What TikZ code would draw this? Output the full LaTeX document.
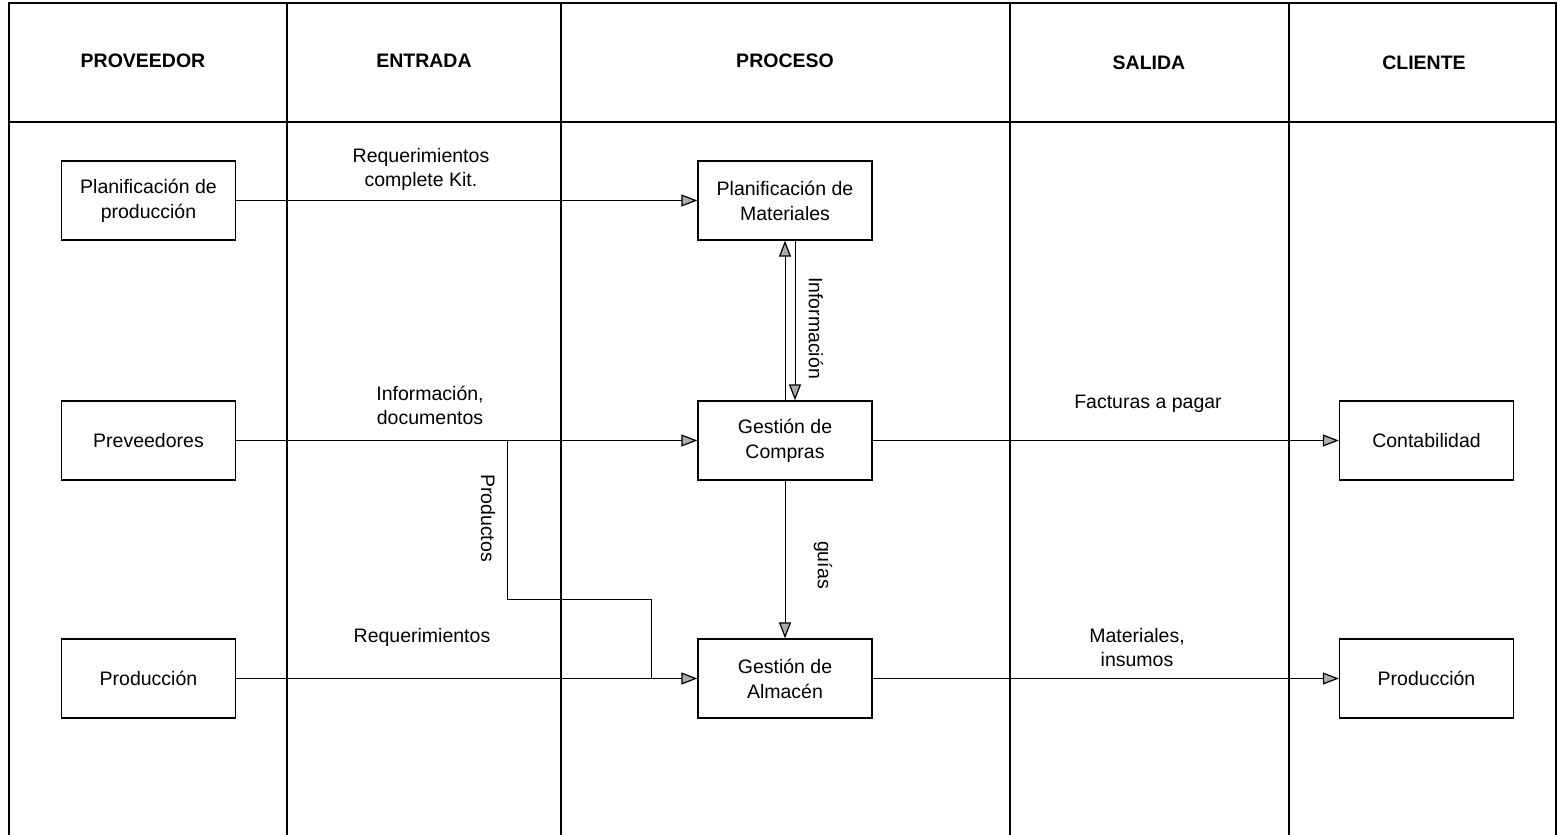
\documentclass[tikz,border=0pt]{standalone}
\usepackage{fontspec}
\setmainfont{Liberation Sans}
\usetikzlibrary{arrows.meta,calc}

\tikzset{
  grid/.style={line width=1.3pt},
  box/.style={draw, line width=1.3pt, fill=white, minimum width=174pt, minimum height=79pt,
    inner sep=0pt, align=center, font=\fontsize{19.5}{25}\selectfont},
  hdr/.style={font=\fontsize{19.5}{25}\selectfont\bfseries},
  lbl/.style={align=center, inner sep=0pt, font=\fontsize{19.5}{24}\selectfont},
  vlbl/.style={lbl, rotate=-90},
  flow/.style={line width=1pt},
  arr/.style={flow, -{Triangle[length=16pt,width=12pt,fill=gray!65,line width=1.2pt]}},
}

\begin{document}
\begin{tikzpicture}[x=1pt,y=-1pt]
\useasboundingbox (0,0) rectangle (1558,835);

% table frame, columns and header row
\draw[grid] (9,835) -- (9,3) -- (1556,3) -- (1556,835);
\draw[grid] (9,122) -- (1556,122);
\foreach \cx in {287,561,1010,1289}
  \draw[grid] (\cx,3) -- (\cx,835);

\node[hdr] (hprov) at (143,61) {PROVEEDOR};
\node[hdr] (hent)  at (424,61) {ENTRADA};
\node[hdr] (hproc) at (785,61) {PROCESO};
\node[hdr] (hsal)  at (1149,63) {SALIDA};
\node[hdr] (hcli)  at (1424,63) {CLIENTE};

% suppliers
\node[box] (pp)   at (148.5,200.5) {Planificación de\\producción};
\node[box] (prv)  at (148.5,440.5) {Preveedores};
\node[box] (prod) at (148.5,678.5) {Producción};

% process
\node[box] (pm) at (785,200.5) {Planificación de\\Materiales};
\node[box] (gc) at (785,440.5) {Gestión de\\Compras};
\node[box] (ga) at (785,678.5) {Gestión de\\Almacén};

% clients
\node[box] (cont)  at (1426.5,440.5) {Contabilidad};
\node[box] (prodc) at (1426.5,678.5) {Producción};

% inputs
\draw[arr] (pp) -- (pm);
\draw[arr] (prv) -- (gc);
\draw[arr] (prod) -- (ga);
\node[lbl] (lreq) at (421,169) {Requerimientos\\complete Kit.};
\node[lbl] (linf) at (430,405) {Información,\\documentos};
\node[lbl] (lreq2) at (422,637) {Requerimientos};

% products branch from the supplier line to the warehouse line
\coordinate (b1) at (507,440.5);
\coordinate (b2) at (507,599);
\coordinate (b3) at (651,599);
\coordinate (b4) at (651,678.5);
\draw[flow] (b1) -- (b2) -- (b3) -- (b4);
\node[vlbl] (lprodu) at (488,518) {Productos};

% information exchange between planning and purchasing
\draw[arr] (gc.north) -- (pm.south);
\draw[arr] ($(pm.south)+(10,0)$) -- ($(gc.north)+(10,0)$);
\node[vlbl] (linfo) at (816,328) {Información};

% purchasing to warehouse
\draw[arr] (gc) -- (ga);
\node[vlbl] (lguias) at (823,565) {guías};

% outputs
\draw[arr] (gc) -- (cont);
\draw[arr] (ga) -- (prodc);
\node[lbl] (lfac) at (1148,404) {Facturas a pagar};
\node[lbl] (lmat) at (1137,648) {Materiales,\\insumos};
\end{tikzpicture}
\end{document}
